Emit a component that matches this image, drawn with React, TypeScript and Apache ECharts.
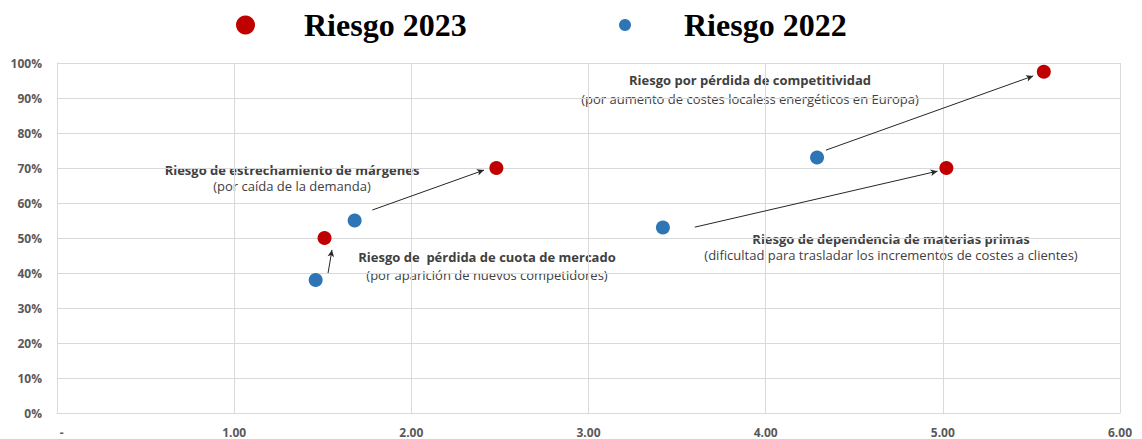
import React, { useEffect, useRef } from "react";
import * as echarts from "echarts";

const xTicks = [0, 1, 2, 3, 4, 5, 6];
const yTicks = [0, 10, 20, 30, 40, 50, 60, 70, 80, 90, 100];
const seriesNames = ["Riesgo 2023", "Riesgo 2022"];
const risk2023: [number, number][] = [
  [2.48, 70],
  [1.51, 50],
  [5.57, 97.5],
  [5.02, 70],
];
const risk2022: [number, number][] = [
  [1.68, 55],
  [1.46, 38],
  [4.29, 73],
  [3.42, 53],
];
// arrows: [from, to] in data coordinates
const arrows: [[number, number], [number, number]][] = [
  [[1.78, 58], [2.41, 69.4]],
  [[1.53, 40], [1.552, 46.6]],
  [[4.34, 75.1], [5.51, 96.3]],
  [[3.6, 53.1], [4.97, 69.1]],
];
const annotations = [
  { title: "Riesgo de estrechamiento de márgenes", sub: "(por caída de la demanda)", x: 292, y: 170 },
  { title: "Riesgo de  pérdida de cuota de mercado", sub: "(por aparición de nuevos competidores)", x: 487, y: 257 },
  { title: "Riesgo por pérdida de competitividad", sub: "(por aumento de costes localess energéticos en Europa)", x: 750, y: 80 },
  { title: "Riesgo de dependencia de materias primas", sub: "(dificultad para trasladar los incrementos de costes a clientes)", x: 891, y: 239 },
];
const subOffsets = [16, 18, 19, 16];

export default function App() {
  const ref = useRef<HTMLDivElement>(null);
  useEffect(() => {
    document.body.style.margin = "0";
    const chart = echarts.init(ref.current!, null, { renderer: "svg" });
    const font = "'Open Sans', sans-serif";
    const graphics: any[] = [];
    annotations.forEach((a, i) => {
      graphics.push({
        type: "text",
        x: a.x,
        y: a.y,
        style: { text: a.title, font: `bold 13px ${font}`, fill: "#404040", textAlign: "center", textVerticalAlign: "middle" },
      });
      graphics.push({
        type: "text",
        x: a.x,
        y: a.y + subOffsets[i],
        style: { text: a.sub, font: `13px ${font}`, fill: "#404040", textAlign: "center", textVerticalAlign: "middle" },
      });
    });
    chart.setOption({
      animation: false,
      backgroundColor: "#fff",
      legend: [
        {
          data: [seriesNames[0]],
          left: 231,
          top: 4,
          icon: "circle",
          itemWidth: 19,
          itemHeight: 19,
          textStyle: { fontFamily: "'Liberation Serif', serif", fontWeight: "bold", fontSize: 32, color: "#000", padding: [0, 0, 0, 44] },
        },
        {
          data: [seriesNames[1]],
          left: 614,
          top: 4,
          icon: "circle",
          itemWidth: 12,
          itemHeight: 12,
          textStyle: { fontFamily: "'Liberation Serif', serif", fontWeight: "bold", fontSize: 32, color: "#000", padding: [0, 0, 0, 48] },
        },
      ],
      grid: { left: 57, right: 22, top: 63, bottom: 26 },
      xAxis: {
        type: "value",
        min: xTicks[0],
        max: xTicks[xTicks.length - 1],
        interval: 1,
        axisLine: { show: true, lineStyle: { color: "#d9d9d9" } },
        axisTick: { show: false },
        splitLine: { show: true, lineStyle: { color: "#d9d9d9" } },
        axisLabel: {
          color: "#595959",
          fontFamily: font,
          fontWeight: "bold",
          fontSize: 12,
          margin: 13,
          formatter: (v: number) => (v === 0 ? "   -" : v.toFixed(2)),
        },
      },
      yAxis: {
        type: "value",
        min: yTicks[0],
        max: yTicks[yTicks.length - 1],
        interval: 10,
        axisLine: { show: true, lineStyle: { color: "#d9d9d9" } },
        axisTick: { show: false },
        splitLine: { show: true, lineStyle: { color: "#d9d9d9" } },
        axisLabel: { color: "#595959", fontFamily: font, fontWeight: "bold", fontSize: 12, margin: 15, formatter: "{value}%" },
      },
      series: [
        {
          name: seriesNames[0],
          type: "scatter",
          symbolSize: 14,
          itemStyle: { color: "#c00000", opacity: 1 },
          data: risk2023,
          z: 3,
        },
        {
          name: seriesNames[1],
          type: "scatter",
          symbolSize: 14,
          itemStyle: { color: "#2e75b6", opacity: 1 },
          data: risk2022,
          z: 3,
          markLine: {
            silent: true,
            symbol: ["none", "arrow"],
            symbolSize: [5, 7],
            label: { show: false },
            lineStyle: { color: "#262626", width: 1, type: "solid" },
            data: arrows.map(([a, b]) => [{ coord: a }, { coord: b }]),
          },
        },
      ],
      graphic: graphics,
    });
    return () => chart.dispose();
  }, []);
  return <div ref={ref} style={{ width: 1142, height: 439 }} />;
}
